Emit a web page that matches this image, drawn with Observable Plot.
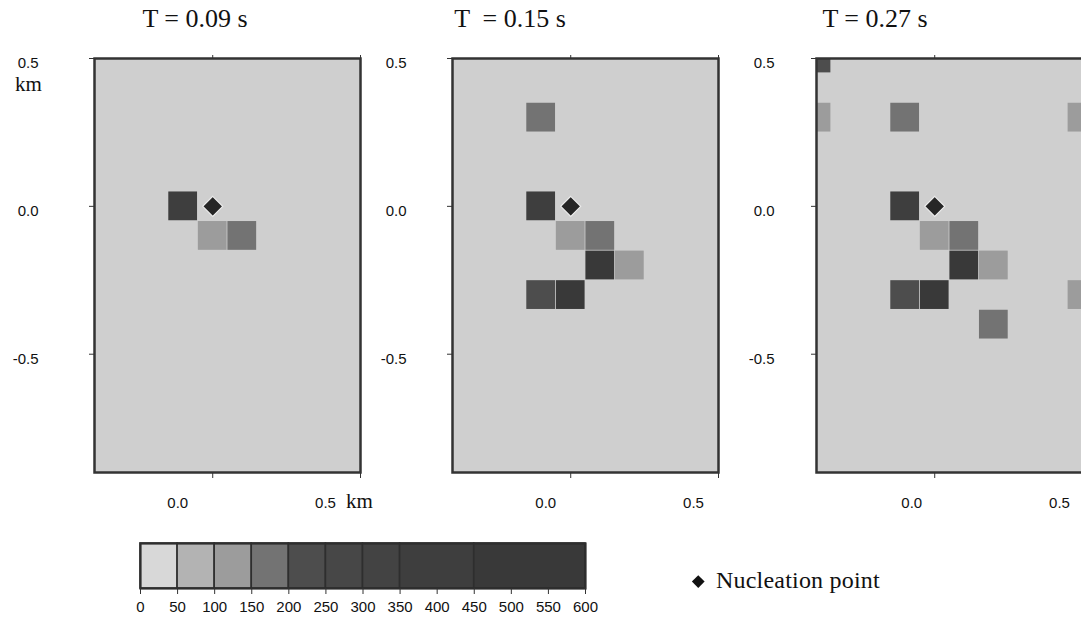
<!DOCTYPE html>
<html><head><meta charset="utf-8">
<script src="https://cdn.jsdelivr.net/npm/d3@7"></script>
<script src="https://cdn.jsdelivr.net/npm/@observablehq/plot@0.6"></script>
<style>
body{margin:0;background:#fff;}
#root{position:relative;width:1081px;height:630px;overflow:hidden;background:#fff;}
.abs{position:absolute;white-space:pre;}
.title{font-family:"Liberation Serif","Times New Roman",serif;font-size:26px;line-height:26px;color:#111;transform:translateX(-50%);}
.serif{font-family:"Liberation Serif","Times New Roman",serif;color:#111;}
</style></head>
<body><div id="root"></div>
<script>
// ---- data ----
const panelTitles = ["T = 0.09 s", "T  = 0.15 s", "T = 0.27 s"];
const xTicks = [0.0, 0.5];
const yTicks = [0.5, 0.0, -0.5];
const xDomain = [-0.4, 0.5];
const yDomain = [-0.9, 0.5];
const cellSize = 0.1;
const nucleation = [[0.0, 0.0]];
// [x (km), y (km), value]
const cellsT009 = [[-0.1, 0.0, 400], [0.0, -0.1, 125], [0.1, -0.1, 175]];
const cellsT015 = [[-0.1, 0.3, 175], [-0.1, 0.0, 400], [0.0, -0.1, 125], [0.1, -0.1, 175],
  [0.1, -0.2, 500], [0.2, -0.2, 125], [-0.1, -0.3, 225], [0.0, -0.3, 500]];
const cellsT027 = [[-0.4, 0.5, 225], [-0.4, 0.3, 125], [-0.1, 0.3, 175], [0.5, 0.3, 125],
  [-0.1, 0.0, 400], [0.0, -0.1, 125], [0.1, -0.1, 175], [0.1, -0.2, 500], [0.2, -0.2, 125],
  [-0.1, -0.3, 225], [0.0, -0.3, 500], [0.5, -0.3, 125], [0.2, -0.4, 175]];
const binEdges = [0, 50, 100, 150, 200, 250, 300, 350, 450, 600];
const binColors = ["#d8d8d8", "#b3b3b3", "#9c9c9c", "#737373", "#4d4d4d", "#474747", "#434343", "#3e3e3e", "#393939"];
const legendTicks = [0, 50, 100, 150, 200, 250, 300, 350, 400, 450, 500, 550, 600];
const legendLabel = "Nucleation point";

// ---- layout ----
const root = document.getElementById("root");
const panels = [cellsT009, cellsT015, cellsT027];
const panelLeft = [93.6, 451.6, 815.6];
const titleX = [195, 510, 875];
const yLabelGap = [56, 46, 42];
const xLabelShift = [-35, -25, -23];
const bgColor = "#cfcfcf";
const colorScale = {type: "threshold", domain: binEdges.slice(1, -1), range: binColors};
const sans = "Liberation Sans, Arial, sans-serif";

function place(el, left, top) {
  el.style.position = "absolute";
  el.style.left = left + "px";
  el.style.top = top + "px";
  el.style.overflow = "visible";
  root.appendChild(el);
}

panels.forEach((cells, i) => {
  const plot = Plot.plot({
    width: 100 + 266 + 30, height: 58 + 414 + 50,
    marginLeft: 100, marginRight: 30, marginTop: 58, marginBottom: 50,
    x: {domain: xDomain, axis: null},
    y: {domain: yDomain, axis: null},
    color: colorScale,
    style: {background: "transparent", overflow: "visible"},
    marks: [
      Plot.frame({fill: bgColor}),
      Plot.rect(cells, {
        x1: d => d[0] - cellSize / 2, x2: d => d[0] + cellSize / 2,
        y1: d => d[1] - cellSize / 2, y2: d => d[1] + cellSize / 2,
        fill: d => d[2], inset: 0.4, clip: true
      }),
      Plot.dot(nucleation, {x: d => d[0], y: d => d[1], symbol: "diamond2", r: 9,
        fill: "#262626", stroke: "#ececec", strokeWidth: 1.2}),
      Plot.axisX(xTicks, {anchor: "bottom", tickSize: 6, tickFormat: () => "", stroke: "#333"}),
      Plot.axisX(xTicks, {anchor: "top", tickSize: 4, tickFormat: () => "", stroke: "#333"}),
      Plot.axisY(yTicks, {anchor: "left", tickSize: 5, tickFormat: () => "", stroke: "#333"}),
      Plot.frame({stroke: "#333", strokeWidth: 2.5}),
      Plot.text(yTicks, {y: d => d, text: d => d.toFixed(1), frameAnchor: "left",
        dx: -yLabelGap[i], dy: 5, textAnchor: "end", fontSize: 15, fontFamily: sans, fill: "#111"}),
      Plot.text(xTicks, {x: d => d, text: d => d.toFixed(1), frameAnchor: "bottom",
        dx: xLabelShift[i], dy: 35, fontSize: 15, fontFamily: sans, fill: "#111"})
    ]
  });
  place(plot, panelLeft[i] - 100, 0);

  const t = document.createElement("div");
  t.className = "abs title";
  t.textContent = panelTitles[i];
  t.style.left = titleX[i] + "px";
  t.style.top = "6px";
  root.appendChild(t);
});

// "km" unit labels
const km1 = document.createElement("div");
km1.className = "abs serif";
km1.style.cssText += "left:15px;top:74px;font-size:21px;line-height:20px;";
km1.textContent = "km";
root.appendChild(km1);
const km2 = document.createElement("div");
km2.className = "abs serif";
km2.style.cssText += "left:346px;top:491px;font-size:21px;line-height:21px;";
km2.textContent = "km";
root.appendChild(km2);

// colour bar
const bins = binEdges.slice(0, -1).map((e, k) => [e, binEdges[k + 1]]);
const bar = Plot.plot({
  width: 20 + 445 + 20, height: 13 + 45 + 40,
  marginLeft: 20, marginRight: 20, marginTop: 13, marginBottom: 40,
  x: {domain: [binEdges[0], binEdges[binEdges.length - 1]], axis: null},
  color: colorScale,
  style: {background: "transparent", overflow: "visible"},
  marks: [
    Plot.rect(bins, {x1: d => d[0], x2: d => d[1], fill: d => d[0], stroke: "#2e2e2e", strokeWidth: 1.6}),
    Plot.frame({stroke: "#2e2e2e", strokeWidth: 2.2}),
    Plot.axisX(legendTicks, {anchor: "bottom", tickSize: 6, tickFormat: () => "", stroke: "#333"}),
    Plot.text(legendTicks, {x: d => d, text: d => String(d), frameAnchor: "bottom", dy: 23,
      fontSize: 15, fontFamily: sans, fill: "#111"})
  ]
});
place(bar, 120, 530);

// nucleation legend
const dia = document.createElement("div");
dia.style.cssText = "position:absolute;left:694px;top:577px;width:8.5px;height:8.5px;background:#111;transform:rotate(45deg);";
root.appendChild(dia);
const nl = document.createElement("div");
nl.className = "abs serif";
nl.style.cssText += "left:716px;top:568px;font-size:24px;line-height:24px;letter-spacing:0.2px;";
nl.textContent = legendLabel;
root.appendChild(nl);
</script>
</body></html>
